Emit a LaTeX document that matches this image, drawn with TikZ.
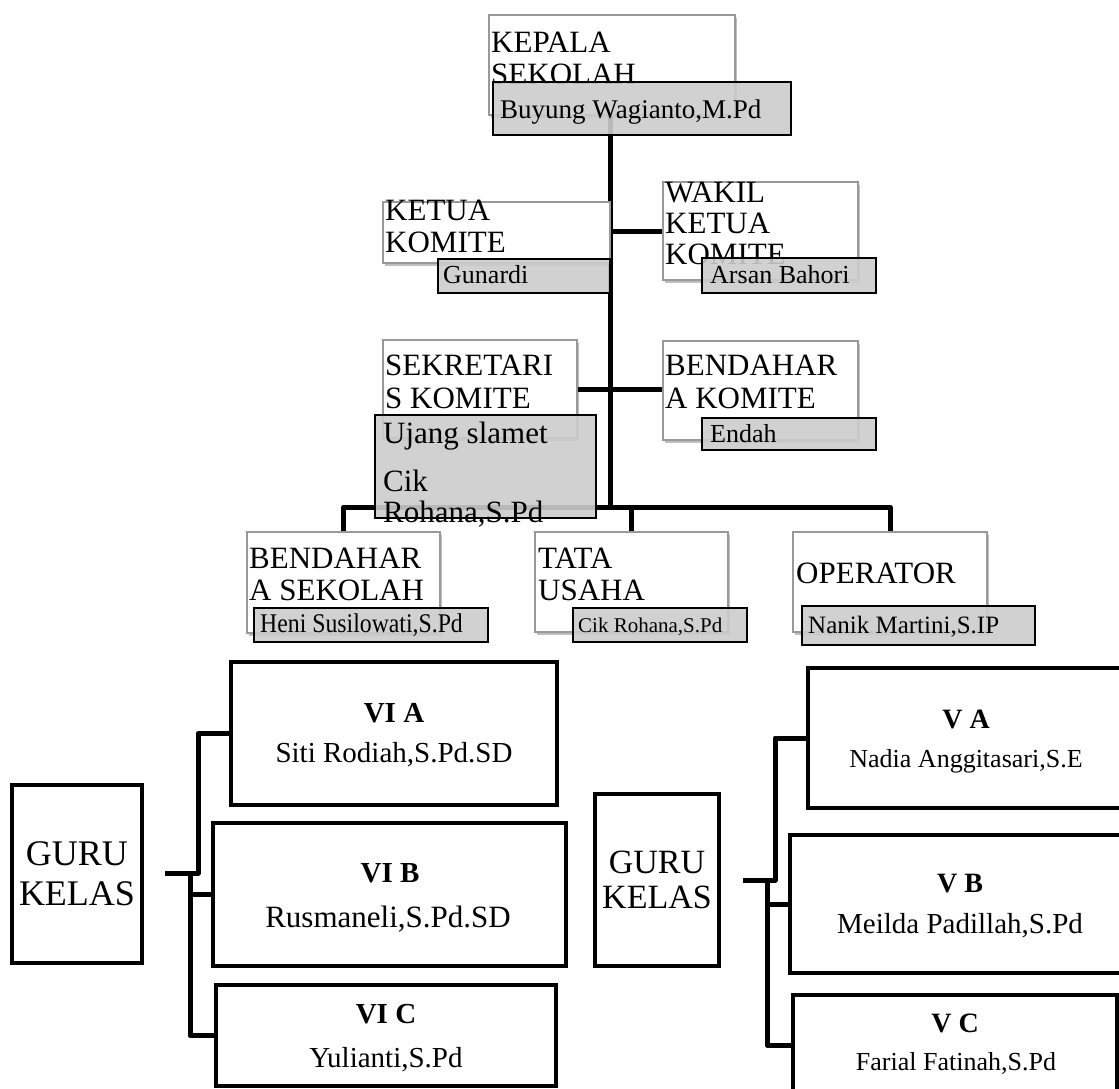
\documentclass[tikz,border=0pt]{standalone}
\usepackage{fontspec}
\setmainfont{Liberation Serif}
\usetikzlibrary{fit,shadows}
\newcommand\fsz[1]{\fontsize{#1}{#1}\selectfont}
\begin{document}
\begin{tikzpicture}[x=1pt,y=-1pt,
  wbox/.style={draw=black!40, line width=1.5pt, fill=white, inner sep=0pt,
    drop shadow={shadow xshift=2pt, shadow yshift=-2.5pt, fill=black, opacity=0.25}},
  gbox/.style={draw=black, line width=1.3pt, fill=black!20, fill opacity=0.9, inner sep=0pt},
  kbox/.style={draw=black, line width=4pt, fill=white, inner sep=0pt},
  conn/.style={draw=black, line width=5pt, line join=round},
  tl/.style={inner sep=0pt, anchor=base west, font=\fsz{31}},
  nm/.style={inner sep=0pt, anchor=base west},
  ct/.style={inner sep=0pt, anchor=base}]
\useasboundingbox (0,0) rectangle (1119,1088);
\fill[white] (0,0) rectangle (1119,1088);
\clip (0,0) rectangle (1119,1088);

\coordinate (j1) at (610,507);

% ---------- frames for connectors ----------
\node[inner sep=0pt, fit={(489,15) (735,115)}] (kepalaF) {};
\node[inner sep=0pt, fit={(663,182) (858,280)}] (wakilF) {};
\node[inner sep=0pt, fit={(383,340) (577,438)}] (sekF) {};
\node[inner sep=0pt, fit={(663,341) (858,440)}] (bkomF) {};
\node[inner sep=0pt, fit={(247,532) (440,633)}] (bsekF) {};
\node[inner sep=0pt, fit={(535,532) (728,632)}] (tataF) {};
\node[inner sep=0pt, fit={(793,532) (987,632)}] (opF) {};

\draw[conn] (kepalaF.south -| j1) -- (j1);
\draw[conn] (wakilF.west -| j1) -- (wakilF.west);
\draw[conn] (sekF.east) -- (bkomF.west |- sekF.east);
\draw[conn] (bsekF.north) -- (bsekF.north |- j1) -- (opF.north |- j1) -- (opF.north);
\draw[conn] (tataF.north) -- (tataF.north |- j1);

% ---------- top white boxes ----------
\node[wbox, fit={(489,15) (735,115)}] (kepala) {};
\node[wbox, fit={(383,202) (610,263)}] (ketua) {};
\node[wbox, fit={(663,182) (858,280)}] (wakil) {};
\node[wbox, fit={(383,340) (577,438)}] (sek) {};
\node[wbox, fit={(663,341) (858,440)}] (bkom) {};
\node[wbox, fit={(247,532) (440,633)}] (bsek) {};
\node[wbox, fit={(535,532) (728,632)}] (tata) {};
\node[wbox, fit={(793,532) (987,632)}] (operator) {};

% titles
\node[tl] (tk1) at (491,52) {KEPALA};
\node[tl] (tk2) at (491,84) {SEKOLAH};
\node[tl] (tt1) at (385,220) {KETUA};
\node[tl] (tt2) at (385,252) {KOMITE};
\node[tl] (tw1) at (665,202) {WAKIL};
\node[tl] (tw2) at (665,233) {KETUA};
\node[tl] (tw3) at (665,264) {KOMITE};
\node[tl] (ts1) at (385,375) {SEKRETARI};
\node[tl] (ts2) at (385,408) {S KOMITE};
\node[tl] (tb1) at (665,375) {BENDAHAR};
\node[tl] (tb2) at (665,408) {A KOMITE};
\node[tl] (tbs1) at (249,568) {BENDAHAR};
\node[tl] (tbs2) at (249,600) {A SEKOLAH};
\node[tl] (tu1) at (538,568) {TATA};
\node[tl] (tu2) at (538,600) {USAHA};
\node[tl] (to1) at (796,583) {OPERATOR};

% ---------- gray name boxes ----------
\node[gbox, fit={(493,82) (791,135)}] (buyung) {};
\node[gbox, fit={(438,259) (610,293)}] (gunardi) {};
\node[gbox, fit={(702,258) (876,293)}] (arsan) {};
\node[gbox, fit={(375,415) (596,518)}] (ujang) {};
\node[gbox, fit={(702,418) (876,450)}] (endah) {};
\node[gbox, fit={(254,608) (488,642)}] (heni) {};
\node[gbox, fit={(573,608) (747,642)}] (cikr) {};
\node[gbox, fit={(802,606) (1035,645)}] (nanik) {};

\node[nm, font=\fsz{27}] (nb) at (500,118) {Buyung Wagianto,M.Pd};
\node[nm, font=\fsz{26}] (ng) at (443,283) {Gunardi};
\node[nm, font=\fsz{26}] (na) at (710,283) {Arsan Bahori};
\node[nm, font=\fsz{31}] (nu1) at (383,443) {Ujang slamet};
\node[nm, font=\fsz{31}] (nu2) at (383,491) {Cik};
\node[nm, font=\fsz{31}] (nu3) at (383,522) {Rohana,S.Pd};
\node[nm, font=\fsz{26}] (ne) at (710,442) {Endah};
\node[nm, font=\fsz{27}] (nh) at (260,632) {\scalebox{0.88}[1]{Heni Susilowati,S.Pd}};
\node[nm, font=\fsz{21}] (nc) at (578,632) {Cik Rohana,S.Pd};
\node[nm, font=\fsz{25}] (nn) at (808,633) {Nanik Martini,S.IP};

% ---------- bottom left group ----------
\coordinate (g1s) at (165,873);
\coordinate (g1a) at (198,873);
\coordinate (g1b) at (190,873);
\node[inner sep=0pt, fit={(231,662) (557,805)}] (viaF) {};
\node[inner sep=0pt, fit={(213,823) (566,966)}] (vibF) {};
\node[inner sep=0pt, fit={(216,985) (556,1086)}] (vicF) {};
\draw[conn] (g1s) -- (g1a) -- (g1a |- viaF.west) -- (viaF.west);
\draw[conn] (g1b) -- (g1b |- vicF.west) -- (vicF.west);
\draw[conn] (g1b |- vibF.west) -- (vibF.west);

\node[kbox, fit={(12,785) (142,963)}] (guru1) {};
\node[kbox, fit={(231,662) (557,805)}] (via) {};
\node[kbox, fit={(213,823) (566,966)}] (vib) {};
\node[kbox, fit={(216,985) (556,1086)}] (vic) {};

\node[ct, font=\fsz{36}] (gl1) at (77,865) {GURU};
\node[ct, font=\fsz{36}] (gl2) at (77,905) {KELAS};
\node[ct, font=\fsz{29}\bfseries] (la1) at (394,722) {VI A};
\node[ct, font=\fsz{29}] (la2) at (394,762) {Siti Rodiah,S.Pd.SD};
\node[ct, font=\fsz{29}\bfseries] (lb1) at (390,882) {VI B};
\node[ct, font=\fsz{31}] (lb2) at (388,927) {Rusmaneli,S.Pd.SD};
\node[ct, font=\fsz{29}\bfseries] (lc1) at (386,1023) {VI C};
\node[ct, font=\fsz{29}] (lc2) at (386,1067) {Yulianti,S.Pd};

% ---------- bottom right group ----------
\coordinate (g2s) at (743,880);
\coordinate (g2a) at (775,880);
\coordinate (g2b) at (767,880);
\node[inner sep=0pt, fit={(808,668) (1124,808)}] (vaF) {};
\node[inner sep=0pt, fit={(790,835) (1130,973)}] (vbF) {};
\node[inner sep=0pt, fit={(793,995) (1117,1095)}] (vcF) {};
\draw[conn] (g2s) -- (g2a) -- (g2a |- vaF.west) -- (vaF.west);
\draw[conn] (g2b) -- (g2b |- vcF.west) -- (vcF.west);
\draw[conn] (g2b |- vbF.west) -- (vbF.west);

\node[kbox, fit={(595,794) (719,966)}] (guru2) {};
\node[kbox, fit={(808,668) (1124,808)}] (va) {};
\node[kbox, fit={(790,835) (1130,973)}] (vb) {};
\node[kbox, fit={(793,995) (1117,1095)}] (vc) {};

\node[ct, font=\fsz{34}] (gr1) at (657,873) {GURU};
\node[ct, font=\fsz{34}] (gr2) at (657,908) {KELAS};
\node[ct, font=\fsz{28}\bfseries] (ra1) at (966,728) {V A};
\node[ct, font=\fsz{26}] (ra2) at (966,767) {Nadia Anggitasari,S.E};
\node[ct, font=\fsz{28}\bfseries] (rb1) at (960,892) {V B};
\node[ct, font=\fsz{29}] (rb2) at (960,933) {Meilda Padillah,S.Pd};
\node[ct, font=\fsz{28}\bfseries] (rc1) at (955,1032) {V C};
\node[ct, font=\fsz{26}] (rc2) at (956,1070) {Farial Fatinah,S.Pd};
\end{tikzpicture}
\end{document}
